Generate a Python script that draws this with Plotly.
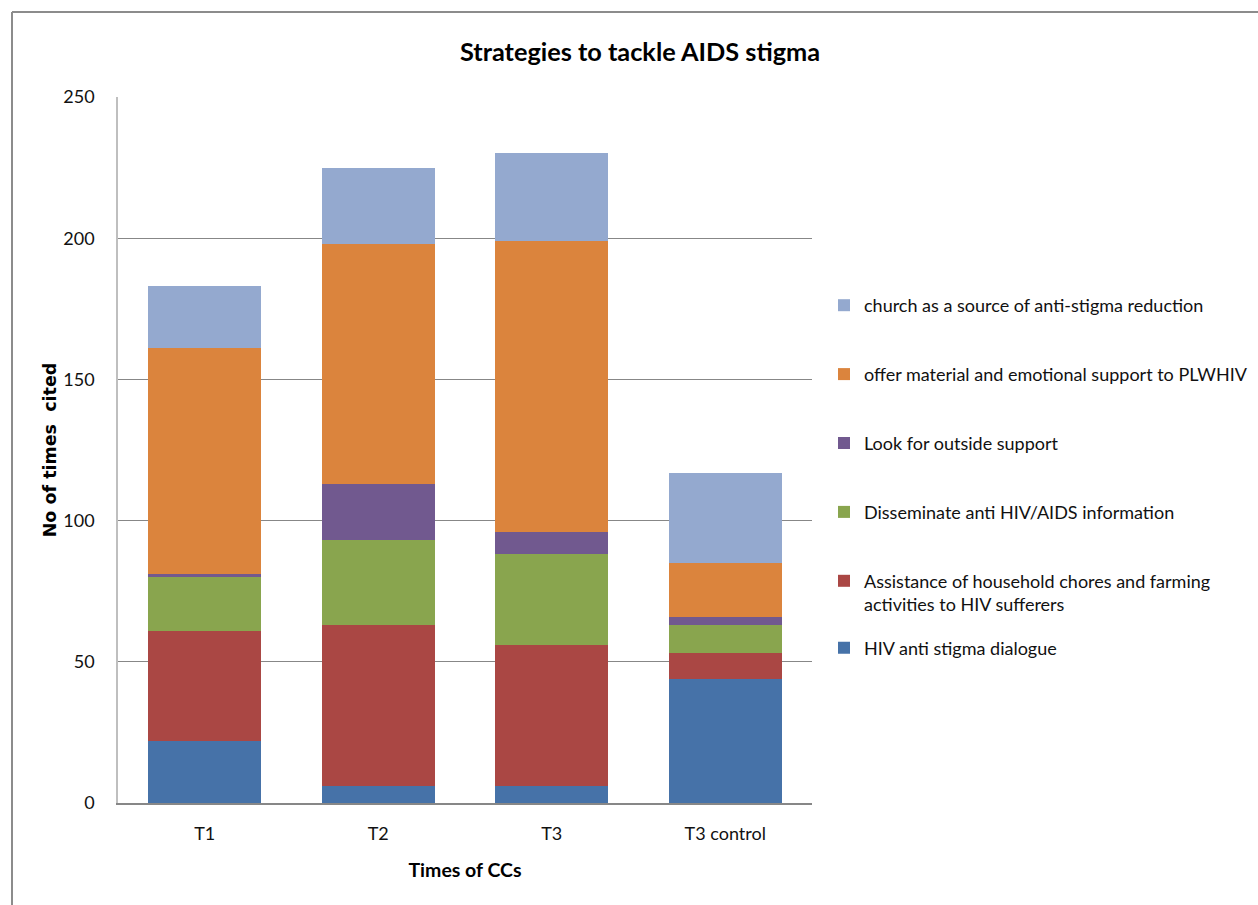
import plotly.graph_objects as go

# Categories on the x axis
categories = ["T1", "T2", "T3", "T3 control"]

# Counts per strategy (stacked bottom to top)
hiv_dialogue = [22, 6, 6, 44]
household_assist = [39, 57, 50, 9]
disseminate_info = [19, 30, 32, 10]
outside_support = [1, 20, 8, 3]
material_support = [80, 85, 103, 19]
church_source = [22, 27, 31, 32]

series_names = [
    "HIV anti stigma dialogue",
    "Assistance of household chores and farming<br>activities to HIV sufferers",
    "Disseminate anti HIV/AIDS information",
    "Look for outside support",
    "offer material and emotional support to PLWHIV",
    "church as a source of anti-stigma reduction",
]
series_values = [hiv_dialogue, household_assist, disseminate_info,
                 outside_support, material_support, church_source]
series_colors = ["#4672A8", "#AA4744", "#89A54E", "#71598F", "#DB843D", "#94A9CF"]

FONT = "Lato"
TXT = "#111111"

fig = go.Figure()
for i, (name, vals, col) in enumerate(zip(series_names, series_values, series_colors)):
    fig.add_trace(go.Bar(
        x=categories, y=vals, name=name,
        marker=dict(color=col, line=dict(width=0)),
        legendgroup=f"g{i}",
        legendrank=100 - i,  # top segment listed first
        legend="legend2" if i == 0 else "legend",
    ))

# plot area in pixels: x 118..812, y 97..803
L, R, T, B = 118, 812, 97, 803
W, H = 1258, 905
pw, ph = R - L, B - T

def px_x(x):
    return (x - L) / pw

def px_y(y):
    return (B - y) / ph

fig.update_layout(
    width=W, height=H,
    margin=dict(l=L, r=W - R, t=T, b=H - B, autoexpand=False),
    barmode="stack",
    bargap=0.35,
    paper_bgcolor="white",
    plot_bgcolor="white",
    font=dict(family=FONT, size=18, color=TXT),
    title=dict(
        text="<b>Strategies to tackle AIDS stigma</b>",
        x=640 / W, xanchor="center", xref="container",
        y=1 - 52 / H, yanchor="middle", yref="container",
        font=dict(family=FONT, size=25.3, color="black"),
    ),
    xaxis=dict(
        showline=True, linecolor="#878787", linewidth=1.5,
        ticks="", showgrid=False,
        ticklabelstandoff=14,
        tickfont=dict(family=FONT, size=18, color=TXT),
        title=dict(text="<b>Times of CCs</b>", standoff=20,
                   font=dict(family=FONT, size=19.5, color="black")),
    ),
    yaxis=dict(
        range=[0, 250], dtick=50, tick0=0,
        showline=True, linecolor="#BFBFBF", linewidth=1.5,
        showgrid=True, gridcolor="#878787", gridwidth=1,
        zeroline=False, ticks="",
        ticklabelstandoff=18,
        tickfont=dict(family=FONT, size=18, color=TXT),
        title=dict(text="<b>No of times  cited</b>", standoff=2,
                   font=dict(family="DejaVu Sans", size=17.5, color="black")),
    ),
    legend=dict(
        traceorder="grouped",
        x=px_x(824), xanchor="left",
        y=px_y(287), yanchor="top",
        tracegroupgap=42.5,
        itemwidth=30,
        valign="top",
        font=dict(family=FONT, size=18, color=TXT),
        bgcolor="rgba(0,0,0,0)",
    ),
    legend2=dict(
        x=px_x(824), xanchor="left",
        y=px_y(648), yanchor="middle",
        itemwidth=30,
        font=dict(family=FONT, size=18, color=TXT),
        bgcolor="rgba(0,0,0,0)",
    ),
    shapes=[
        dict(type="line", xref="paper", yref="paper",
             x0=px_x(12), x1=px_x(1258), y0=px_y(12), y1=px_y(12),
             line=dict(color="#8C8C8C", width=2)),
        dict(type="line", xref="paper", yref="paper",
             x0=px_x(12), x1=px_x(12), y0=px_y(12), y1=px_y(905),
             line=dict(color="#8C8C8C", width=2)),
    ],
)

fig.write_html("out.html")
